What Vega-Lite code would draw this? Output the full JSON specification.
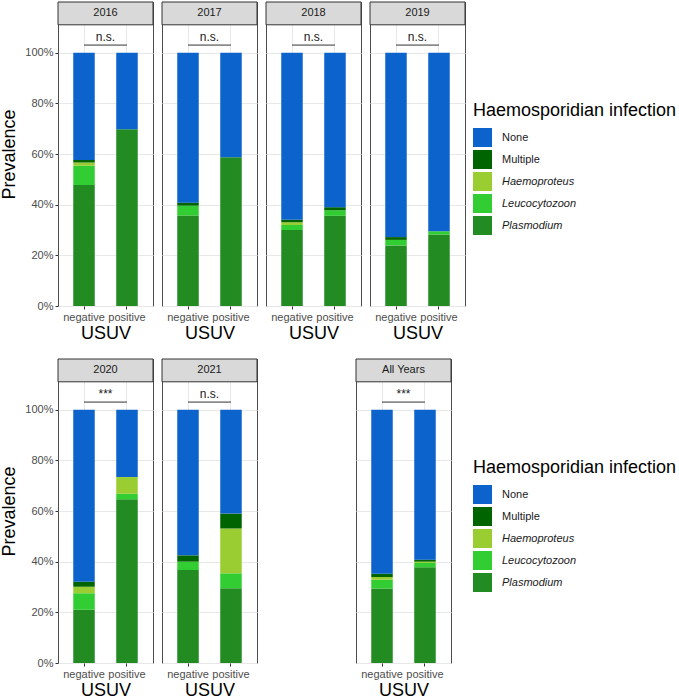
{
  "$schema": "https://vega.github.io/schema/vega-lite/v6.json",
  "padding": {"left": 0, "top": 1, "right": 0, "bottom": 0},
  "background": "white",
  "datasets": {
    "bars": [
      {"year": "2016", "usuv": "negative", "infection": "Plasmodium", "p": 0.478},
      {"year": "2016", "usuv": "negative", "infection": "Leucocytozoon", "p": 0.076},
      {"year": "2016", "usuv": "negative", "infection": "Haemoproteus", "p": 0.012},
      {"year": "2016", "usuv": "negative", "infection": "Multiple", "p": 0.010},
      {"year": "2016", "usuv": "negative", "infection": "None", "p": 0.424},
      {"year": "2016", "usuv": "positive", "infection": "Plasmodium", "p": 0.698},
      {"year": "2016", "usuv": "positive", "infection": "None", "p": 0.302},
      {"year": "2017", "usuv": "negative", "infection": "Plasmodium", "p": 0.357},
      {"year": "2017", "usuv": "negative", "infection": "Leucocytozoon", "p": 0.039},
      {"year": "2017", "usuv": "negative", "infection": "Multiple", "p": 0.012},
      {"year": "2017", "usuv": "negative", "infection": "None", "p": 0.592},
      {"year": "2017", "usuv": "positive", "infection": "Plasmodium", "p": 0.587},
      {"year": "2017", "usuv": "positive", "infection": "None", "p": 0.413},
      {"year": "2018", "usuv": "negative", "infection": "Plasmodium", "p": 0.300},
      {"year": "2018", "usuv": "negative", "infection": "Leucocytozoon", "p": 0.020},
      {"year": "2018", "usuv": "negative", "infection": "Haemoproteus", "p": 0.011},
      {"year": "2018", "usuv": "negative", "infection": "Multiple", "p": 0.009},
      {"year": "2018", "usuv": "negative", "infection": "None", "p": 0.660},
      {"year": "2018", "usuv": "positive", "infection": "Plasmodium", "p": 0.356},
      {"year": "2018", "usuv": "positive", "infection": "Leucocytozoon", "p": 0.022},
      {"year": "2018", "usuv": "positive", "infection": "Multiple", "p": 0.012},
      {"year": "2018", "usuv": "positive", "infection": "None", "p": 0.610},
      {"year": "2019", "usuv": "negative", "infection": "Plasmodium", "p": 0.239},
      {"year": "2019", "usuv": "negative", "infection": "Leucocytozoon", "p": 0.022},
      {"year": "2019", "usuv": "negative", "infection": "Multiple", "p": 0.011},
      {"year": "2019", "usuv": "negative", "infection": "None", "p": 0.728},
      {"year": "2019", "usuv": "positive", "infection": "Plasmodium", "p": 0.282},
      {"year": "2019", "usuv": "positive", "infection": "Leucocytozoon", "p": 0.013},
      {"year": "2019", "usuv": "positive", "infection": "None", "p": 0.705},
      {"year": "2020", "usuv": "negative", "infection": "Plasmodium", "p": 0.210},
      {"year": "2020", "usuv": "negative", "infection": "Leucocytozoon", "p": 0.065},
      {"year": "2020", "usuv": "negative", "infection": "Haemoproteus", "p": 0.026},
      {"year": "2020", "usuv": "negative", "infection": "Multiple", "p": 0.020},
      {"year": "2020", "usuv": "negative", "infection": "None", "p": 0.679},
      {"year": "2020", "usuv": "positive", "infection": "Plasmodium", "p": 0.646},
      {"year": "2020", "usuv": "positive", "infection": "Leucocytozoon", "p": 0.022},
      {"year": "2020", "usuv": "positive", "infection": "Haemoproteus", "p": 0.066},
      {"year": "2020", "usuv": "positive", "infection": "None", "p": 0.266},
      {"year": "2021", "usuv": "negative", "infection": "Plasmodium", "p": 0.367},
      {"year": "2021", "usuv": "negative", "infection": "Leucocytozoon", "p": 0.033},
      {"year": "2021", "usuv": "negative", "infection": "Multiple", "p": 0.025},
      {"year": "2021", "usuv": "negative", "infection": "None", "p": 0.575},
      {"year": "2021", "usuv": "positive", "infection": "Plasmodium", "p": 0.295},
      {"year": "2021", "usuv": "positive", "infection": "Leucocytozoon", "p": 0.059},
      {"year": "2021", "usuv": "positive", "infection": "Haemoproteus", "p": 0.177},
      {"year": "2021", "usuv": "positive", "infection": "Multiple", "p": 0.059},
      {"year": "2021", "usuv": "positive", "infection": "None", "p": 0.410},
      {"year": "All Years", "usuv": "negative", "infection": "Plasmodium", "p": 0.294},
      {"year": "All Years", "usuv": "negative", "infection": "Leucocytozoon", "p": 0.035},
      {"year": "All Years", "usuv": "negative", "infection": "Haemoproteus", "p": 0.010},
      {"year": "All Years", "usuv": "negative", "infection": "Multiple", "p": 0.013},
      {"year": "All Years", "usuv": "negative", "infection": "None", "p": 0.648},
      {"year": "All Years", "usuv": "positive", "infection": "Plasmodium", "p": 0.378},
      {"year": "All Years", "usuv": "positive", "infection": "Leucocytozoon", "p": 0.017},
      {"year": "All Years", "usuv": "positive", "infection": "Haemoproteus", "p": 0.005},
      {"year": "All Years", "usuv": "positive", "infection": "Multiple", "p": 0.008},
      {"year": "All Years", "usuv": "positive", "infection": "None", "p": 0.592}
    ],
    "annot": [
      {"year": "2016", "sig": "n.s."},
      {"year": "2017", "sig": "n.s."},
      {"year": "2018", "sig": "n.s."},
      {"year": "2019", "sig": "n.s."},
      {"year": "2020", "sig": "***"},
      {"year": "2021", "sig": "n.s."},
      {"year": "All Years", "sig": "***"}
    ]
  },
  "resolve": {"scale": {"color": "independent"}, "legend": {"color": "independent"}},
  "spacing": 15,
  "vconcat": [
    {
      "spacing": 7,
      "hconcat": [
        {
          "width": 95, "height": 304,
          "layer": [
            {"data": {"name": "bars"},
             "transform": [{"filter": "datum.year === '2016'"}, {"calculate": "indexof(['Plasmodium','Leucocytozoon','Haemoproteus','Multiple','None'], datum.infection)", "as": "ord"}],
             "mark": {"type": "bar"},
             "encoding": {
               "x": {"field": "usuv", "type": "nominal", "scale": {"type": "band", "paddingInner": 0.5, "paddingOuter": 0.355}, "axis": {"title": "USUV"}},
               "y": {"field": "p", "type": "quantitative", "stack": "zero", "scale": {"domain": [0, 1.2], "nice": false},
                     "axis": {"title": "Prevalence", "values": [0, 0.1, 0.2, 0.3, 0.4, 0.5, 0.6, 0.7, 0.8, 0.9, 1.0], "format": ".0%", "labelExpr": "round(datum.value*10) % 2 === 0 ? datum.label : ''", "tickOpacity": {"condition": {"test": "round(datum.value*10) % 2 === 1", "value": 0}, "value": 1}, "gridColor": {"condition": {"test": "round(datum.value*10) % 2 === 1", "value": "#f4f4f4"}, "value": "#e8e8e8"}}},
               "color": {"field": "infection", "type": "nominal", "scale": {"domain": ["None", "Multiple", "Haemoproteus", "Leucocytozoon", "Plasmodium"], "range": ["#0c63cc", "#006400", "#9acd32", "#32cd32", "#228b22"]},
                         "legend": {"title": "Haemosporidian infection", "orient": "none", "legendX": 415, "legendY": 100, "titleLimit": 400, "titleFontSize": 18, "titleFontWeight": "normal", "titleColor": "#000000", "titlePadding": 8, "labelFontSize": 11, "labelColor": "#1a1a1a", "symbolType": "square", "symbolSize": 361, "symbolStrokeWidth": 0, "symbolOpacity": 1, "rowPadding": 3, "labelOffset": 10, "padding": 0, "encode": {"labels": {"update": {"fontStyle": {"signal": "datum.value === 'None' || datum.value === 'Multiple' ? 'normal' : 'italic'"}}}}}},
               "order": {"field": "ord", "type": "quantitative"}
             }},
            {"data": {"name": "annot"}, "transform": [{"filter": "datum.year === '2016'"}],
             "mark": {"type": "rect", "fill": "#d9d9d9", "stroke": "#333333", "strokeWidth": 1},
             "encoding": {"y": {"datum": 1.11, "type": "quantitative"}, "y2": {"datum": 1.2}}},
            {"data": {"name": "annot"}, "transform": [{"filter": "datum.year === '2016'"}],
             "mark": {"type": "text", "fontSize": 11, "color": "#1a1a1a", "baseline": "middle"},
             "encoding": {"y": {"datum": 1.155, "type": "quantitative"}, "text": {"field": "year"}}},
            {"data": {"name": "annot"}, "transform": [{"filter": "datum.year === '2016'"}],
             "mark": {"type": "rule", "color": "#333333", "strokeWidth": 1},
             "encoding": {"x": {"datum": "negative", "type": "nominal"}, "x2": {"datum": "positive"}, "y": {"datum": 1.03, "type": "quantitative"}}},
            {"data": {"name": "annot"}, "transform": [{"filter": "datum.year === '2016'"}],
             "mark": {"type": "text", "fontSize": 12, "color": "#1a1a1a", "baseline": "alphabetic"},
             "encoding": {"y": {"datum": 1.045, "type": "quantitative"}, "text": {"field": "sig"}}}
          ]
        },
        {
          "width": 95, "height": 304,
          "layer": [
            {"data": {"name": "bars"},
             "transform": [{"filter": "datum.year === '2017'"}, {"calculate": "indexof(['Plasmodium','Leucocytozoon','Haemoproteus','Multiple','None'], datum.infection)", "as": "ord"}],
             "mark": {"type": "bar"},
             "encoding": {
               "x": {"field": "usuv", "type": "nominal", "scale": {"type": "band", "paddingInner": 0.5, "paddingOuter": 0.355}, "axis": {"title": "USUV"}},
               "y": {"field": "p", "type": "quantitative", "stack": "zero", "scale": {"domain": [0, 1.2], "nice": false},
                     "axis": {"title": null, "labels": false, "ticks": false, "values": [0, 0.1, 0.2, 0.3, 0.4, 0.5, 0.6, 0.7, 0.8, 0.9, 1.0], "gridColor": {"condition": {"test": "round(datum.value*10) % 2 === 1", "value": "#f4f4f4"}, "value": "#e8e8e8"}}},
               "color": {"field": "infection", "type": "nominal", "scale": {"domain": ["None", "Multiple", "Haemoproteus", "Leucocytozoon", "Plasmodium"], "range": ["#0c63cc", "#006400", "#9acd32", "#32cd32", "#228b22"]},
                         "legend": {"title": "Haemosporidian infection", "orient": "none", "legendX": 415, "legendY": 100, "titleLimit": 400, "titleFontSize": 18, "titleFontWeight": "normal", "titleColor": "#000000", "titlePadding": 8, "labelFontSize": 11, "labelColor": "#1a1a1a", "symbolType": "square", "symbolSize": 361, "symbolStrokeWidth": 0, "symbolOpacity": 1, "rowPadding": 3, "labelOffset": 10, "padding": 0, "encode": {"labels": {"update": {"fontStyle": {"signal": "datum.value === 'None' || datum.value === 'Multiple' ? 'normal' : 'italic'"}}}}}},
               "order": {"field": "ord", "type": "quantitative"}
             }},
            {"data": {"name": "annot"}, "transform": [{"filter": "datum.year === '2017'"}],
             "mark": {"type": "rect", "fill": "#d9d9d9", "stroke": "#333333", "strokeWidth": 1},
             "encoding": {"y": {"datum": 1.11, "type": "quantitative"}, "y2": {"datum": 1.2}}},
            {"data": {"name": "annot"}, "transform": [{"filter": "datum.year === '2017'"}],
             "mark": {"type": "text", "fontSize": 11, "color": "#1a1a1a", "baseline": "middle"},
             "encoding": {"y": {"datum": 1.155, "type": "quantitative"}, "text": {"field": "year"}}},
            {"data": {"name": "annot"}, "transform": [{"filter": "datum.year === '2017'"}],
             "mark": {"type": "rule", "color": "#333333", "strokeWidth": 1},
             "encoding": {"x": {"datum": "negative", "type": "nominal"}, "x2": {"datum": "positive"}, "y": {"datum": 1.03, "type": "quantitative"}}},
            {"data": {"name": "annot"}, "transform": [{"filter": "datum.year === '2017'"}],
             "mark": {"type": "text", "fontSize": 12, "color": "#1a1a1a", "baseline": "alphabetic"},
             "encoding": {"y": {"datum": 1.045, "type": "quantitative"}, "text": {"field": "sig"}}}
          ]
        },
        {
          "width": 95, "height": 304,
          "layer": [
            {"data": {"name": "bars"},
             "transform": [{"filter": "datum.year === '2018'"}, {"calculate": "indexof(['Plasmodium','Leucocytozoon','Haemoproteus','Multiple','None'], datum.infection)", "as": "ord"}],
             "mark": {"type": "bar"},
             "encoding": {
               "x": {"field": "usuv", "type": "nominal", "scale": {"type": "band", "paddingInner": 0.5, "paddingOuter": 0.355}, "axis": {"title": "USUV"}},
               "y": {"field": "p", "type": "quantitative", "stack": "zero", "scale": {"domain": [0, 1.2], "nice": false},
                     "axis": {"title": null, "labels": false, "ticks": false, "values": [0, 0.1, 0.2, 0.3, 0.4, 0.5, 0.6, 0.7, 0.8, 0.9, 1.0], "gridColor": {"condition": {"test": "round(datum.value*10) % 2 === 1", "value": "#f4f4f4"}, "value": "#e8e8e8"}}},
               "color": {"field": "infection", "type": "nominal", "scale": {"domain": ["None", "Multiple", "Haemoproteus", "Leucocytozoon", "Plasmodium"], "range": ["#0c63cc", "#006400", "#9acd32", "#32cd32", "#228b22"]},
                         "legend": {"title": "Haemosporidian infection", "orient": "none", "legendX": 415, "legendY": 100, "titleLimit": 400, "titleFontSize": 18, "titleFontWeight": "normal", "titleColor": "#000000", "titlePadding": 8, "labelFontSize": 11, "labelColor": "#1a1a1a", "symbolType": "square", "symbolSize": 361, "symbolStrokeWidth": 0, "symbolOpacity": 1, "rowPadding": 3, "labelOffset": 10, "padding": 0, "encode": {"labels": {"update": {"fontStyle": {"signal": "datum.value === 'None' || datum.value === 'Multiple' ? 'normal' : 'italic'"}}}}}},
               "order": {"field": "ord", "type": "quantitative"}
             }},
            {"data": {"name": "annot"}, "transform": [{"filter": "datum.year === '2018'"}],
             "mark": {"type": "rect", "fill": "#d9d9d9", "stroke": "#333333", "strokeWidth": 1},
             "encoding": {"y": {"datum": 1.11, "type": "quantitative"}, "y2": {"datum": 1.2}}},
            {"data": {"name": "annot"}, "transform": [{"filter": "datum.year === '2018'"}],
             "mark": {"type": "text", "fontSize": 11, "color": "#1a1a1a", "baseline": "middle"},
             "encoding": {"y": {"datum": 1.155, "type": "quantitative"}, "text": {"field": "year"}}},
            {"data": {"name": "annot"}, "transform": [{"filter": "datum.year === '2018'"}],
             "mark": {"type": "rule", "color": "#333333", "strokeWidth": 1},
             "encoding": {"x": {"datum": "negative", "type": "nominal"}, "x2": {"datum": "positive"}, "y": {"datum": 1.03, "type": "quantitative"}}},
            {"data": {"name": "annot"}, "transform": [{"filter": "datum.year === '2018'"}],
             "mark": {"type": "text", "fontSize": 12, "color": "#1a1a1a", "baseline": "alphabetic"},
             "encoding": {"y": {"datum": 1.045, "type": "quantitative"}, "text": {"field": "sig"}}}
          ]
        },
        {
          "width": 95, "height": 304,
          "layer": [
            {"data": {"name": "bars"},
             "transform": [{"filter": "datum.year === '2019'"}, {"calculate": "indexof(['Plasmodium','Leucocytozoon','Haemoproteus','Multiple','None'], datum.infection)", "as": "ord"}],
             "mark": {"type": "bar"},
             "encoding": {
               "x": {"field": "usuv", "type": "nominal", "scale": {"type": "band", "paddingInner": 0.5, "paddingOuter": 0.355}, "axis": {"title": "USUV"}},
               "y": {"field": "p", "type": "quantitative", "stack": "zero", "scale": {"domain": [0, 1.2], "nice": false},
                     "axis": {"title": null, "labels": false, "ticks": false, "values": [0, 0.1, 0.2, 0.3, 0.4, 0.5, 0.6, 0.7, 0.8, 0.9, 1.0], "gridColor": {"condition": {"test": "round(datum.value*10) % 2 === 1", "value": "#f4f4f4"}, "value": "#e8e8e8"}}},
               "color": {"field": "infection", "type": "nominal", "scale": {"domain": ["None", "Multiple", "Haemoproteus", "Leucocytozoon", "Plasmodium"], "range": ["#0c63cc", "#006400", "#9acd32", "#32cd32", "#228b22"]},
                         "legend": {"title": "Haemosporidian infection", "orient": "none", "legendX": 415, "legendY": 100, "titleLimit": 400, "titleFontSize": 18, "titleFontWeight": "normal", "titleColor": "#000000", "titlePadding": 8, "labelFontSize": 11, "labelColor": "#1a1a1a", "symbolType": "square", "symbolSize": 361, "symbolStrokeWidth": 0, "symbolOpacity": 1, "rowPadding": 3, "labelOffset": 10, "padding": 0, "encode": {"labels": {"update": {"fontStyle": {"signal": "datum.value === 'None' || datum.value === 'Multiple' ? 'normal' : 'italic'"}}}}}},
               "order": {"field": "ord", "type": "quantitative"}
             }},
            {"data": {"name": "annot"}, "transform": [{"filter": "datum.year === '2019'"}],
             "mark": {"type": "rect", "fill": "#d9d9d9", "stroke": "#333333", "strokeWidth": 1},
             "encoding": {"y": {"datum": 1.11, "type": "quantitative"}, "y2": {"datum": 1.2}}},
            {"data": {"name": "annot"}, "transform": [{"filter": "datum.year === '2019'"}],
             "mark": {"type": "text", "fontSize": 11, "color": "#1a1a1a", "baseline": "middle"},
             "encoding": {"y": {"datum": 1.155, "type": "quantitative"}, "text": {"field": "year"}}},
            {"data": {"name": "annot"}, "transform": [{"filter": "datum.year === '2019'"}],
             "mark": {"type": "rule", "color": "#333333", "strokeWidth": 1},
             "encoding": {"x": {"datum": "negative", "type": "nominal"}, "x2": {"datum": "positive"}, "y": {"datum": 1.03, "type": "quantitative"}}},
            {"data": {"name": "annot"}, "transform": [{"filter": "datum.year === '2019'"}],
             "mark": {"type": "text", "fontSize": 12, "color": "#1a1a1a", "baseline": "alphabetic"},
             "encoding": {"y": {"datum": 1.045, "type": "quantitative"}, "text": {"field": "sig"}}}
          ]
        }
      ]
    },
    {
      "spacing": 97,
      "hconcat": [
        {
          "spacing": 7,
          "hconcat": [
            {
              "width": 95, "height": 304,
              "layer": [
                {"data": {"name": "bars"},
                 "transform": [{"filter": "datum.year === '2020'"}, {"calculate": "indexof(['Plasmodium','Leucocytozoon','Haemoproteus','Multiple','None'], datum.infection)", "as": "ord"}],
                 "mark": {"type": "bar"},
                 "encoding": {
                   "x": {"field": "usuv", "type": "nominal", "scale": {"type": "band", "paddingInner": 0.5, "paddingOuter": 0.355}, "axis": {"title": "USUV"}},
                   "y": {"field": "p", "type": "quantitative", "stack": "zero", "scale": {"domain": [0, 1.2], "nice": false},
                         "axis": {"title": "Prevalence", "values": [0, 0.1, 0.2, 0.3, 0.4, 0.5, 0.6, 0.7, 0.8, 0.9, 1.0], "format": ".0%", "labelExpr": "round(datum.value*10) % 2 === 0 ? datum.label : ''", "tickOpacity": {"condition": {"test": "round(datum.value*10) % 2 === 1", "value": 0}, "value": 1}, "gridColor": {"condition": {"test": "round(datum.value*10) % 2 === 1", "value": "#f4f4f4"}, "value": "#e8e8e8"}}},
                   "color": {"field": "infection", "type": "nominal", "scale": {"domain": ["None", "Multiple", "Haemoproteus", "Leucocytozoon", "Plasmodium"], "range": ["#0c63cc", "#006400", "#9acd32", "#32cd32", "#228b22"]},
                             "legend": {"title": "Haemosporidian infection", "orient": "none", "legendX": 415, "legendY": 100, "titleLimit": 400, "titleFontSize": 18, "titleFontWeight": "normal", "titleColor": "#000000", "titlePadding": 8, "labelFontSize": 11, "labelColor": "#1a1a1a", "symbolType": "square", "symbolSize": 361, "symbolStrokeWidth": 0, "symbolOpacity": 1, "rowPadding": 3, "labelOffset": 10, "padding": 0, "encode": {"labels": {"update": {"fontStyle": {"signal": "datum.value === 'None' || datum.value === 'Multiple' ? 'normal' : 'italic'"}}}}}},
                   "order": {"field": "ord", "type": "quantitative"}
                 }},
                {"data": {"name": "annot"}, "transform": [{"filter": "datum.year === '2020'"}],
                 "mark": {"type": "rect", "fill": "#d9d9d9", "stroke": "#333333", "strokeWidth": 1},
                 "encoding": {"y": {"datum": 1.11, "type": "quantitative"}, "y2": {"datum": 1.2}}},
                {"data": {"name": "annot"}, "transform": [{"filter": "datum.year === '2020'"}],
                 "mark": {"type": "text", "fontSize": 11, "color": "#1a1a1a", "baseline": "middle"},
                 "encoding": {"y": {"datum": 1.155, "type": "quantitative"}, "text": {"field": "year"}}},
                {"data": {"name": "annot"}, "transform": [{"filter": "datum.year === '2020'"}],
                 "mark": {"type": "rule", "color": "#333333", "strokeWidth": 1},
                 "encoding": {"x": {"datum": "negative", "type": "nominal"}, "x2": {"datum": "positive"}, "y": {"datum": 1.03, "type": "quantitative"}}},
                {"data": {"name": "annot"}, "transform": [{"filter": "datum.year === '2020'"}],
                 "mark": {"type": "text", "fontSize": 12, "color": "#1a1a1a", "baseline": "alphabetic"},
                 "encoding": {"y": {"datum": 1.045, "type": "quantitative"}, "text": {"field": "sig"}}}
              ]
            },
            {
              "width": 95, "height": 304,
              "layer": [
                {"data": {"name": "bars"},
                 "transform": [{"filter": "datum.year === '2021'"}, {"calculate": "indexof(['Plasmodium','Leucocytozoon','Haemoproteus','Multiple','None'], datum.infection)", "as": "ord"}],
                 "mark": {"type": "bar"},
                 "encoding": {
                   "x": {"field": "usuv", "type": "nominal", "scale": {"type": "band", "paddingInner": 0.5, "paddingOuter": 0.355}, "axis": {"title": "USUV"}},
                   "y": {"field": "p", "type": "quantitative", "stack": "zero", "scale": {"domain": [0, 1.2], "nice": false},
                         "axis": {"title": null, "labels": false, "ticks": false, "values": [0, 0.1, 0.2, 0.3, 0.4, 0.5, 0.6, 0.7, 0.8, 0.9, 1.0], "gridColor": {"condition": {"test": "round(datum.value*10) % 2 === 1", "value": "#f4f4f4"}, "value": "#e8e8e8"}}},
                   "color": {"field": "infection", "type": "nominal", "scale": {"domain": ["None", "Multiple", "Haemoproteus", "Leucocytozoon", "Plasmodium"], "range": ["#0c63cc", "#006400", "#9acd32", "#32cd32", "#228b22"]},
                             "legend": {"title": "Haemosporidian infection", "orient": "none", "legendX": 415, "legendY": 100, "titleLimit": 400, "titleFontSize": 18, "titleFontWeight": "normal", "titleColor": "#000000", "titlePadding": 8, "labelFontSize": 11, "labelColor": "#1a1a1a", "symbolType": "square", "symbolSize": 361, "symbolStrokeWidth": 0, "symbolOpacity": 1, "rowPadding": 3, "labelOffset": 10, "padding": 0, "encode": {"labels": {"update": {"fontStyle": {"signal": "datum.value === 'None' || datum.value === 'Multiple' ? 'normal' : 'italic'"}}}}}},
                   "order": {"field": "ord", "type": "quantitative"}
                 }},
                {"data": {"name": "annot"}, "transform": [{"filter": "datum.year === '2021'"}],
                 "mark": {"type": "rect", "fill": "#d9d9d9", "stroke": "#333333", "strokeWidth": 1},
                 "encoding": {"y": {"datum": 1.11, "type": "quantitative"}, "y2": {"datum": 1.2}}},
                {"data": {"name": "annot"}, "transform": [{"filter": "datum.year === '2021'"}],
                 "mark": {"type": "text", "fontSize": 11, "color": "#1a1a1a", "baseline": "middle"},
                 "encoding": {"y": {"datum": 1.155, "type": "quantitative"}, "text": {"field": "year"}}},
                {"data": {"name": "annot"}, "transform": [{"filter": "datum.year === '2021'"}],
                 "mark": {"type": "rule", "color": "#333333", "strokeWidth": 1},
                 "encoding": {"x": {"datum": "negative", "type": "nominal"}, "x2": {"datum": "positive"}, "y": {"datum": 1.03, "type": "quantitative"}}},
                {"data": {"name": "annot"}, "transform": [{"filter": "datum.year === '2021'"}],
                 "mark": {"type": "text", "fontSize": 12, "color": "#1a1a1a", "baseline": "alphabetic"},
                 "encoding": {"y": {"datum": 1.045, "type": "quantitative"}, "text": {"field": "sig"}}}
              ]
            }
          ]
        },
        {
          "width": 95, "height": 304,
          "layer": [
            {"data": {"name": "bars"},
             "transform": [{"filter": "datum.year === 'All Years'"}, {"calculate": "indexof(['Plasmodium','Leucocytozoon','Haemoproteus','Multiple','None'], datum.infection)", "as": "ord"}],
             "mark": {"type": "bar"},
             "encoding": {
               "x": {"field": "usuv", "type": "nominal", "scale": {"type": "band", "paddingInner": 0.5, "paddingOuter": 0.355}, "axis": {"title": "USUV"}},
               "y": {"field": "p", "type": "quantitative", "stack": "zero", "scale": {"domain": [0, 1.2], "nice": false},
                     "axis": {"title": null, "labels": false, "ticks": false, "values": [0, 0.1, 0.2, 0.3, 0.4, 0.5, 0.6, 0.7, 0.8, 0.9, 1.0], "gridColor": {"condition": {"test": "round(datum.value*10) % 2 === 1", "value": "#f4f4f4"}, "value": "#e8e8e8"}}},
               "color": {"field": "infection", "type": "nominal", "scale": {"domain": ["None", "Multiple", "Haemoproteus", "Leucocytozoon", "Plasmodium"], "range": ["#0c63cc", "#006400", "#9acd32", "#32cd32", "#228b22"]},
                         "legend": {"title": "Haemosporidian infection", "orient": "none", "legendX": 415, "legendY": 100, "titleLimit": 400, "titleFontSize": 18, "titleFontWeight": "normal", "titleColor": "#000000", "titlePadding": 8, "labelFontSize": 11, "labelColor": "#1a1a1a", "symbolType": "square", "symbolSize": 361, "symbolStrokeWidth": 0, "symbolOpacity": 1, "rowPadding": 3, "labelOffset": 10, "padding": 0, "encode": {"labels": {"update": {"fontStyle": {"signal": "datum.value === 'None' || datum.value === 'Multiple' ? 'normal' : 'italic'"}}}}}},
               "order": {"field": "ord", "type": "quantitative"}
             }},
            {"data": {"name": "annot"}, "transform": [{"filter": "datum.year === 'All Years'"}],
             "mark": {"type": "rect", "fill": "#d9d9d9", "stroke": "#333333", "strokeWidth": 1},
             "encoding": {"y": {"datum": 1.11, "type": "quantitative"}, "y2": {"datum": 1.2}}},
            {"data": {"name": "annot"}, "transform": [{"filter": "datum.year === 'All Years'"}],
             "mark": {"type": "text", "fontSize": 11, "color": "#1a1a1a", "baseline": "middle"},
             "encoding": {"y": {"datum": 1.155, "type": "quantitative"}, "text": {"field": "year"}}},
            {"data": {"name": "annot"}, "transform": [{"filter": "datum.year === 'All Years'"}],
             "mark": {"type": "rule", "color": "#333333", "strokeWidth": 1},
             "encoding": {"x": {"datum": "negative", "type": "nominal"}, "x2": {"datum": "positive"}, "y": {"datum": 1.03, "type": "quantitative"}}},
            {"data": {"name": "annot"}, "transform": [{"filter": "datum.year === 'All Years'"}],
             "mark": {"type": "text", "fontSize": 12, "color": "#1a1a1a", "baseline": "alphabetic"},
             "encoding": {"y": {"datum": 1.045, "type": "quantitative"}, "text": {"field": "sig"}}}
          ]
        }
      ]
    }
  ],
  "config": {
    "font": "Liberation Sans",
    "view": {"stroke": "#4d4d4d", "strokeWidth": 1},
    "axis": {"labelFontSize": 11, "labelColor": "#4d4d4d", "tickColor": "#333333", "tickSize": 3, "titleFontSize": 18, "titleFontWeight": "normal", "titleColor": "#000000", "domain": false, "gridColor": "#e8e8e8", "gridWidth": 1},
    "axisX": {"labelAngle": 0, "labelPadding": 2, "titlePadding": 2, "grid": true, "bandPosition": 0.5},
    "axisY": {"labelPadding": 2, "titlePadding": 6}
  }
}
